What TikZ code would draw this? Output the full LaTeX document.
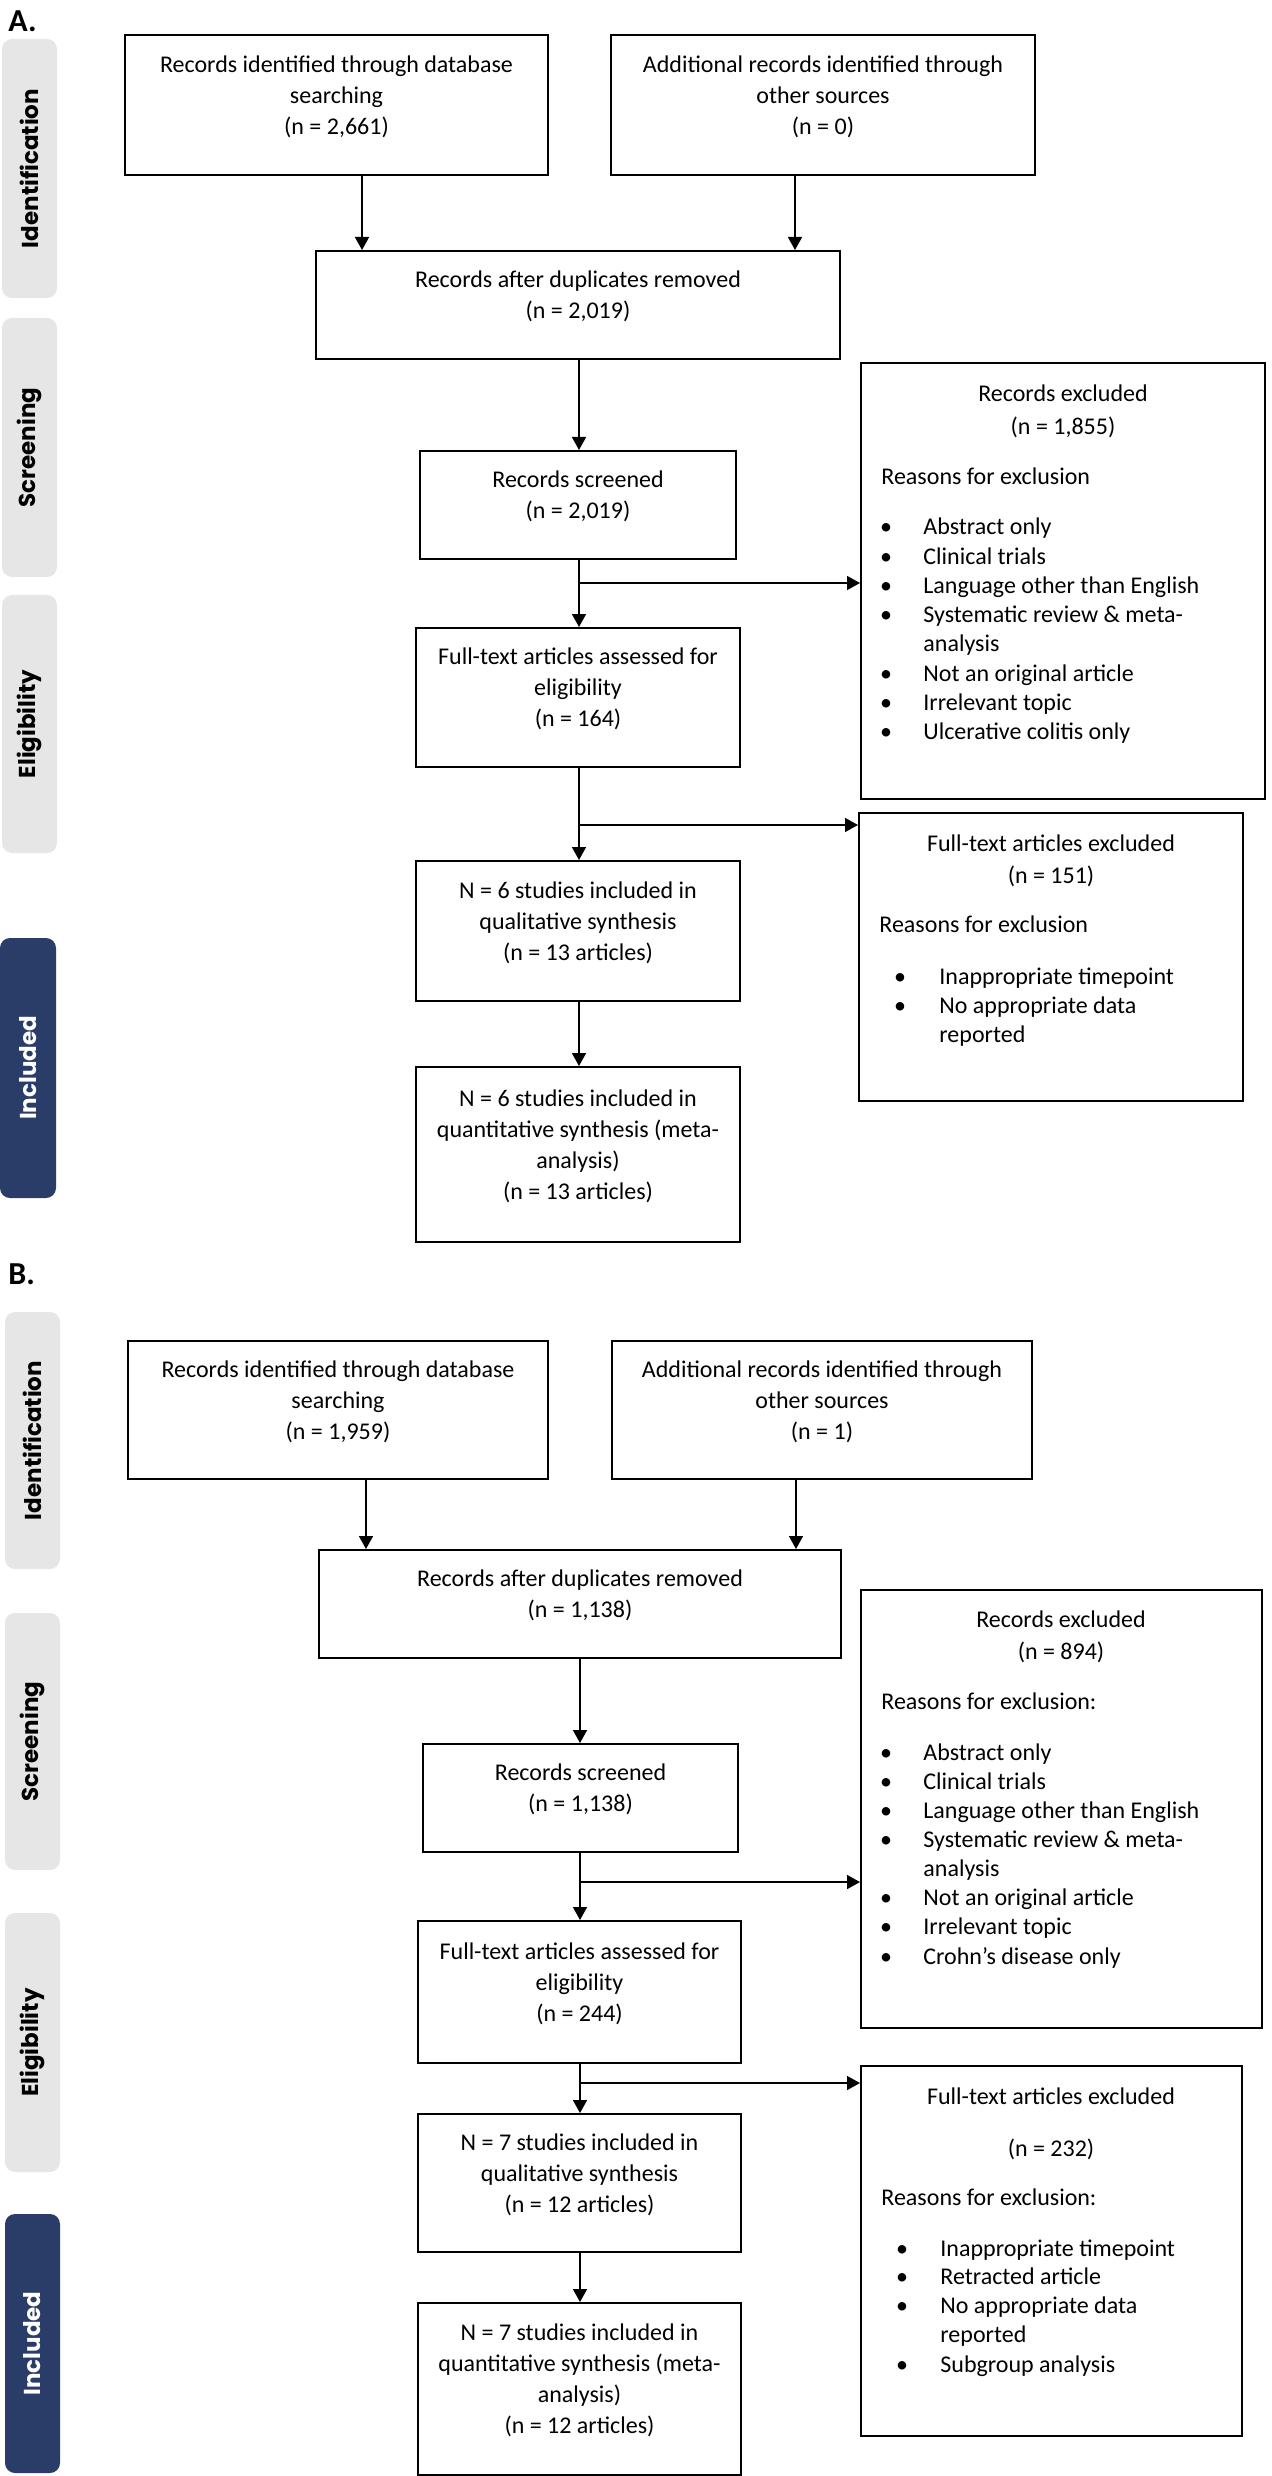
\documentclass[tikz,border=0pt]{standalone}
\usepackage{fontspec}
\setmainfont{Carlito}
\newfontfamily\labfont{Poppins}
\usetikzlibrary{arrows.meta,fit}
\definecolor{labgray}{HTML}{E6E6E6}
\definecolor{labnavy}{HTML}{2A3C68}
\begin{document}
\begin{tikzpicture}[x=0.5pt,y=-0.5pt,
 box/.style={draw, line width=1pt, inner sep=0pt, align=center, font=\fontsize{12}{15.5}\selectfont},
 exbox/.style={draw, line width=1pt, inner sep=0pt},
 lab/.style={fill=labgray, rounded corners=5pt, inner sep=0pt},
 labinc/.style={fill=labnavy, rounded corners=5pt, inner sep=0pt},
 labtxt/.style={rotate=90, inner sep=0pt, font=\labfont\bfseries\fontsize{11.5}{13}\selectfont},
 txt/.style={font=\fontsize{12}{15}\selectfont, inner sep=0pt},
 bul/.style={txt, anchor=mid},
 item/.style={txt, anchor=mid west},
 arr/.style={line width=0.8pt, -{Triangle[length=6.5pt,width=7pt]}},
 panel/.style={font=\bfseries\fontsize{16}{18}\selectfont, inner sep=0pt, anchor=north west}
]
\useasboundingbox (0,0) rectangle (1272,2476);

% ---------------- Panel A ----------------
\node[panel] (tA) at (8,10) {A.};

\node[lab, fit={(2,39) (57,298)}] (iA) {};
\node[labtxt] at (iA.center) {Identification};
\node[lab, fit={(2,318) (57,577)}] (sA) {};
\node[labtxt] at (sA.center) {Screening};
\node[lab, fit={(2,595) (57,853)}] (eA) {};
\node[labtxt] at (eA.center) {Eligibility};
\node[labinc, fit={(0,938) (56,1198)}] (nA) {};
\node[labtxt, text=white] at (nA.center) {Included};

\node[box, fit={(125,35) (548,175)}] (A1) {Records identified through database\\searching\\(n = 2,661)};
\node[box, fit={(611,35) (1035,175)}] (A2) {Additional records identified through\\other sources\\(n = 0)};
\node[box, fit={(316,251) (840,359)}] (A3) {Records after duplicates removed\\(n = 2,019)};
\node[box, fit={(420,451) (736,559)}] (A4) {Records screened\\(n = 2,019)};
\node[exbox, fit={(861,363) (1265,799)}] (REA) {};
\node[box, fit={(416,628) (740,767)}] (A5) {Full-text articles assessed for\\eligibility\\(n = 164)};
\node[exbox, fit={(859,813) (1243,1101)}] (FEA) {};
\node[box, fit={(416,861) (740,1001)}] (A6) {N = 6 studies included in\\qualitative synthesis\\(n = 13 articles)};
\node[box, fit={(416,1067) (740,1242)}] (A7) {N = 6 studies included in\\quantitative synthesis (meta-\\analysis)\\(n = 13 articles)};

% texts of exclusion boxes A
\node[txt, anchor=mid] at (1063,397) {Records excluded};
\node[txt, anchor=mid] at (1063,430) {(n = 1,855)};
\node[item] at (881,480) {Reasons for exclusion};
\foreach \y/\t in {530/Abstract only, 559.3/Clinical trials, 588.6/Language other than English, 617.9/Systematic review \& meta-, 676.5/Not an original article, 705.8/Irrelevant topic, 735.1/Ulcerative colitis only}{
  \node[bul] at (886,\y) {•};
  \node[item] at (923,\y) {\t};
}
\node[item] at (923,647.2) {analysis};

\node[txt, anchor=mid] at (1051,847) {Full-text articles excluded};
\node[txt, anchor=mid] at (1051,879) {(n = 151)};
\node[item] at (879,928) {Reasons for exclusion};
\foreach \y/\t in {980/Inappropriate timepoint, 1009/No appropriate data}{
  \node[bul] at (900,\y) {•};
  \node[item] at (939,\y) {\t};
}
\node[item] at (939,1038) {reported};

% connectors A
\coordinate (cA1) at (362,0);
\coordinate (cA2) at (795,0);
\coordinate (cAm) at (579,0);
\coordinate (jA1) at (579,583);
\coordinate (jA2) at (579,825);
\draw[arr] (A1.south -| cA1) -- (A3.north -| cA1);
\draw[arr] (A2.south -| cA2) -- (A3.north -| cA2);
\draw[arr] (A3.south -| cAm) -- (A4.north -| cAm);
\draw[arr] (A4.south -| cAm) -- (A5.north -| cAm);
\draw[arr] (jA1) -- (REA.west |- jA1);
\draw[arr] (A5.south -| cAm) -- (A6.north -| cAm);
\draw[arr] (jA2) -- (FEA.west |- jA2);
\draw[arr] (A6.south -| cAm) -- (A7.north -| cAm);

% ---------------- Panel B ----------------
\node[panel] (tB) at (8,1263) {B.};

\node[lab, fit={(5,1312) (60,1569)}] (iB) {};
\node[labtxt] at (iB.center) {Identification};
\node[lab, fit={(5,1613) (60,1870)}] (sB) {};
\node[labtxt] at (sB.center) {Screening};
\node[lab, fit={(5,1913) (60,2172)}] (eB) {};
\node[labtxt] at (eB.center) {Eligibility};
\node[labinc, fit={(5,2214) (60,2473)}] (nB) {};
\node[labtxt, text=white] at (nB.center) {Included};

\node[box, fit={(128,1341) (548,1479)}] (B1) {Records identified through database\\searching\\(n = 1,959)};
\node[box, fit={(612,1341) (1032,1479)}] (B2) {Additional records identified through\\other sources\\(n = 1)};
\node[box, fit={(319,1550) (841,1658)}] (B3) {Records after duplicates removed\\(n = 1,138)};
\node[box, fit={(423,1744) (738,1852)}] (B4) {Records screened\\(n = 1,138)};
\node[exbox, fit={(861,1590) (1262,2028)}] (REB) {};
\node[box, fit={(418,1921) (741,2063)}] (B5) {Full-text articles assessed for\\eligibility\\(n = 244)};
\node[exbox, fit={(861,2066) (1242,2436)}] (FEB) {};
\node[box, fit={(418,2114) (741,2252)}] (B6) {N = 7 studies included in\\qualitative synthesis\\(n = 12 articles)};
\node[box, fit={(418,2303) (741,2475)}] (B7) {N = 7 studies included in\\quantitative synthesis (meta-\\analysis)\\(n = 12 articles)};

\node[txt, anchor=mid] at (1061,1623) {Records excluded};
\node[txt, anchor=mid] at (1061,1655) {(n = 894)};
\node[item] at (881,1705) {Reasons for exclusion:};
\foreach \y/\t in {1756/Abstract only, 1785/Clinical trials, 1814/Language other than English, 1843/Systematic review \& meta-, 1901/Not an original article, 1930/Irrelevant topic, 1960/Crohn’s disease only}{
  \node[bul] at (886,\y) {•};
  \node[item] at (923,\y) {\t};
}
\node[item] at (923,1872) {analysis};

\node[txt, anchor=mid] at (1051,2100) {Full-text articles excluded};
\node[txt, anchor=mid] at (1051,2152) {(n = 232)};
\node[item] at (881,2201) {Reasons for exclusion:};
\foreach \y/\t in {2252/Inappropriate timepoint, 2280/Retracted article, 2309/No appropriate data, 2368/Subgroup analysis}{
  \node[bul] at (902,\y) {•};
  \node[item] at (940,\y) {\t};
}
\node[item] at (940,2338) {reported};

% connectors B
\coordinate (cB1) at (366,0);
\coordinate (cB2) at (796,0);
\coordinate (cBm) at (580,0);
\coordinate (jB1) at (580,1882);
\coordinate (jB2) at (580,2083);
\draw[arr] (B1.south -| cB1) -- (B3.north -| cB1);
\draw[arr] (B2.south -| cB2) -- (B3.north -| cB2);
\draw[arr] (B3.south -| cBm) -- (B4.north -| cBm);
\draw[arr] (B4.south -| cBm) -- (B5.north -| cBm);
\draw[arr] (jB1) -- (REB.west |- jB1);
\draw[arr] (B5.south -| cBm) -- (B6.north -| cBm);
\draw[arr] (jB2) -- (FEB.west |- jB2);
\draw[arr] (B6.south -| cBm) -- (B7.north -| cBm);
\end{tikzpicture}
\end{document}
